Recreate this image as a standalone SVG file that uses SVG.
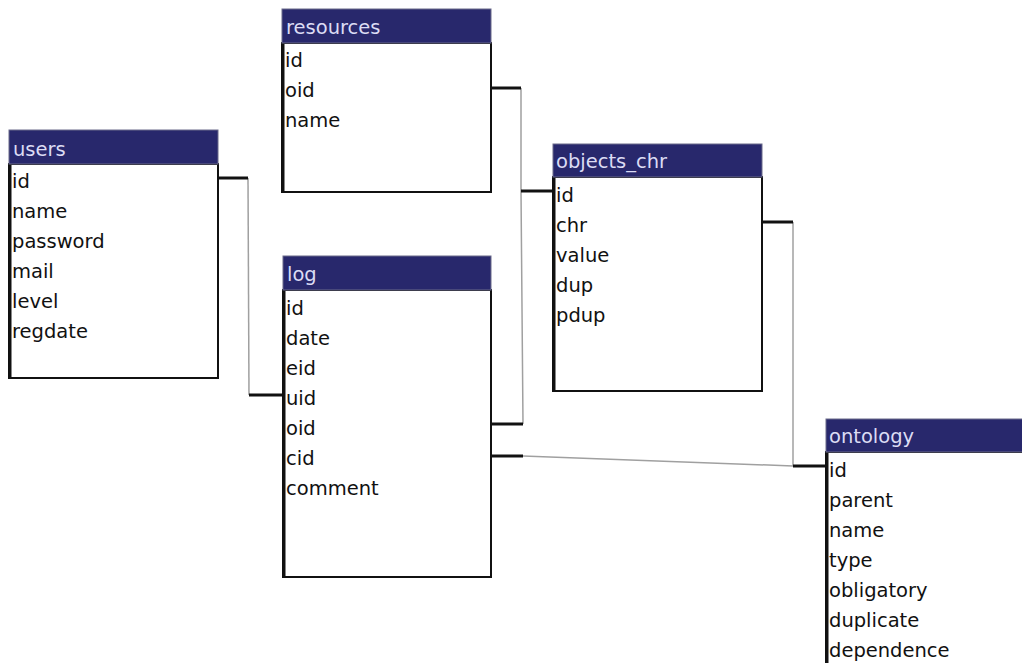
<svg xmlns="http://www.w3.org/2000/svg" width="1022" height="663" viewBox="0 0 1022 663">
<style>
.hd{fill:#28286c;stroke:#6a6a8a;stroke-width:1}
.bd{fill:#ffffff;stroke:#111;stroke-width:2}
.lb{stroke:#111;stroke-width:3}
.ht{font-family:"DejaVu Sans",Verdana,sans-serif;font-size:19.5px;fill:#dcdcf4}
.ft{font-family:"DejaVu Sans",Verdana,sans-serif;font-size:19.5px;fill:#111}
.stub{stroke:#111;stroke-width:3;fill:none}
.thin{stroke:#a0a0a0;stroke-width:1.5;fill:none}
</style>
<rect width="1022" height="663" fill="#ffffff"/>
<g id="connectors">
<polyline class="thin" points="248,178 249,395"/>
<line class="stub" x1="218" y1="178" x2="248" y2="178"/>
<line class="stub" x1="249" y1="395" x2="283" y2="395"/>
<polyline class="thin" points="521,88 521,191 523,424"/>
<line class="stub" x1="491" y1="88" x2="521" y2="88"/>
<line class="stub" x1="521" y1="191" x2="553" y2="191"/>
<line class="stub" x1="491" y1="424" x2="523" y2="424"/>
<polyline class="thin" points="793,222 793,466"/>
<line class="stub" x1="762" y1="222" x2="793" y2="222"/>
<polyline class="thin" points="523,456 793,466"/>
<line class="stub" x1="491" y1="456" x2="523" y2="456"/>
<line class="stub" x1="793" y1="466" x2="826" y2="466"/>
</g>
<g id="users">
<rect class="bd" x="9" y="164" width="209" height="214"/>
<line class="lb" x1="10" y1="164" x2="10" y2="378"/>
<rect class="hd" x="9" y="130" width="209" height="34"/>
<text class="ht" x="13" y="156">users</text>
<text class="ft" x="12" y="188">id</text>
<text class="ft" x="12" y="218">name</text>
<text class="ft" x="12" y="248">password</text>
<text class="ft" x="12" y="278">mail</text>
<text class="ft" x="12" y="308">level</text>
<text class="ft" x="12" y="338">regdate</text>
</g>
<g id="resources">
<rect class="bd" x="282" y="43" width="209" height="149"/>
<line class="lb" x1="283" y1="43" x2="283" y2="192"/>
<rect class="hd" x="282" y="9" width="209" height="34"/>
<text class="ht" x="286" y="34">resources</text>
<text class="ft" x="285" y="67">id</text>
<text class="ft" x="285" y="97">oid</text>
<text class="ft" x="285" y="127">name</text>
</g>
<g id="log">
<rect class="bd" x="283" y="290" width="208" height="287"/>
<line class="lb" x1="284" y1="290" x2="284" y2="577"/>
<rect class="hd" x="283" y="256" width="208" height="34"/>
<text class="ht" x="287" y="281">log</text>
<text class="ft" x="286" y="315">id</text>
<text class="ft" x="286" y="345">date</text>
<text class="ft" x="286" y="375">eid</text>
<text class="ft" x="286" y="405">uid</text>
<text class="ft" x="286" y="435">oid</text>
<text class="ft" x="286" y="465">cid</text>
<text class="ft" x="286" y="495">comment</text>
</g>
<g id="objects_chr">
<rect class="bd" x="553" y="177" width="209" height="214"/>
<line class="lb" x1="554" y1="177" x2="554" y2="391"/>
<rect class="hd" x="553" y="144" width="209" height="33"/>
<text class="ht" x="556" y="168">objects_chr</text>
<text class="ft" x="556" y="202">id</text>
<text class="ft" x="556" y="232">chr</text>
<text class="ft" x="556" y="262">value</text>
<text class="ft" x="556" y="292">dup</text>
<text class="ft" x="556" y="322">pdup</text>
</g>
<g id="ontology">
<rect class="bd" x="826" y="452" width="210" height="230"/>
<line class="lb" x1="827" y1="452" x2="827" y2="682"/>
<rect class="hd" x="826" y="419" width="210" height="33"/>
<text class="ht" x="829" y="443">ontology</text>
<text class="ft" x="829" y="477">id</text>
<text class="ft" x="829" y="507">parent</text>
<text class="ft" x="829" y="537">name</text>
<text class="ft" x="829" y="567">type</text>
<text class="ft" x="829" y="597">obligatory</text>
<text class="ft" x="829" y="627">duplicate</text>
<text class="ft" x="829" y="657">dependence</text>
</g>
</svg>
